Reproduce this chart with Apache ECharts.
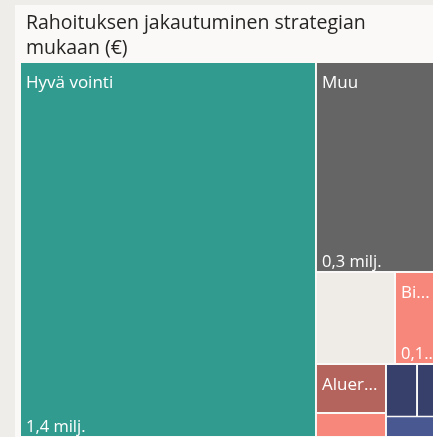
<!DOCTYPE html>
<html>
<head>
<meta charset="utf-8">
<script src="https://cdn.jsdelivr.net/npm/echarts@6/dist/echarts.min.js"></script>
<style>
  html, body { margin: 0; padding: 0; width: 433px; height: 437px; overflow: hidden; background: #efedea; }
  #card { position: absolute; left: 15px; top: 5px; width: 430px; height: 440px; background: #faf9f8; }
</style>
</head>
<body>
<div id="card"></div>
<script>
// ---- data (euros) ----
const titleLines = ['Rahoituksen jakautuminen strategian', 'mukaan (€)'];
const categories = ['Hyvä vointi', 'Muu', '', 'Biotalous', 'Aluerakenne', 'Osaaminen', 'Saavutettavuus', 'Ilmasto', 'Kulttuuri'];
const values = [1400000, 331000, 91700, 53400, 43300, 21200, 20600, 15900, 14200];
const palette = ['#319b8f', '#656565', '#efece8', '#f8877b', '#b4645d', '#f8877b', '#36406b', '#36406b', '#4a5891'];

const nameThreshold = 40000;
const valueThreshold = 50000;

function fmtMilj(v) {
  return (v / 1e6).toFixed(1).replace('.', ',') + ' milj.';
}

const FONT = 'Open Sans';
function buildData(threshold) {
  return categories.map((c, i) => ({
    name: c,
    value: values[i],
    itemStyle: { color: palette[i] },
    label: { show: c !== '' && values[i] >= threshold }
  }));
}

const box = { left: 6, top: 58, width: 419, height: 373 };
function common() {
  return {
    type: 'treemap',
    left: box.left, top: box.top, width: box.width, height: box.height,
    roam: false, nodeClick: false, silent: true,
    breadcrumb: { show: false },
    sort: 'desc',
    emphasis: { disabled: true },
    animation: false,
    levels: [{ itemStyle: { gapWidth: 2, borderWidth: 0, borderColor: '#faf9f8' } }]
  };
}

const chart = echarts.init(document.getElementById('card'), null, { renderer: 'canvas' });
chart.setOption({
  animation: false,
  title: {
    text: titleLines.join('\n'),
    left: 6, top: 1,
    textStyle: { fontFamily: FONT, fontSize: 19.5, fontWeight: 'normal', color: '#252423', lineHeight: 25 }
  },
  series: [
    Object.assign(common(), {
      data: buildData(nameThreshold),
      label: {
        position: 'insideTopLeft', distance: 0,
        padding: [10, 5, 0, 5],
        fontFamily: FONT, fontSize: 17, color: '#ffffff', lineHeight: 20,
        textBorderWidth: 0,
        formatter: p => p.name
      }
    }),
    Object.assign(common(), {
      data: buildData(valueThreshold),
      label: {
        position: 'insideBottomLeft', distance: 0,
        padding: [0, 0, 0, 5],
        fontFamily: FONT, fontSize: 16.5, color: '#ffffff', lineHeight: 17,
        textBorderWidth: 0,
        formatter: p => fmtMilj(p.value)
      }
    })
  ]
});
</script>
</body>
</html>
